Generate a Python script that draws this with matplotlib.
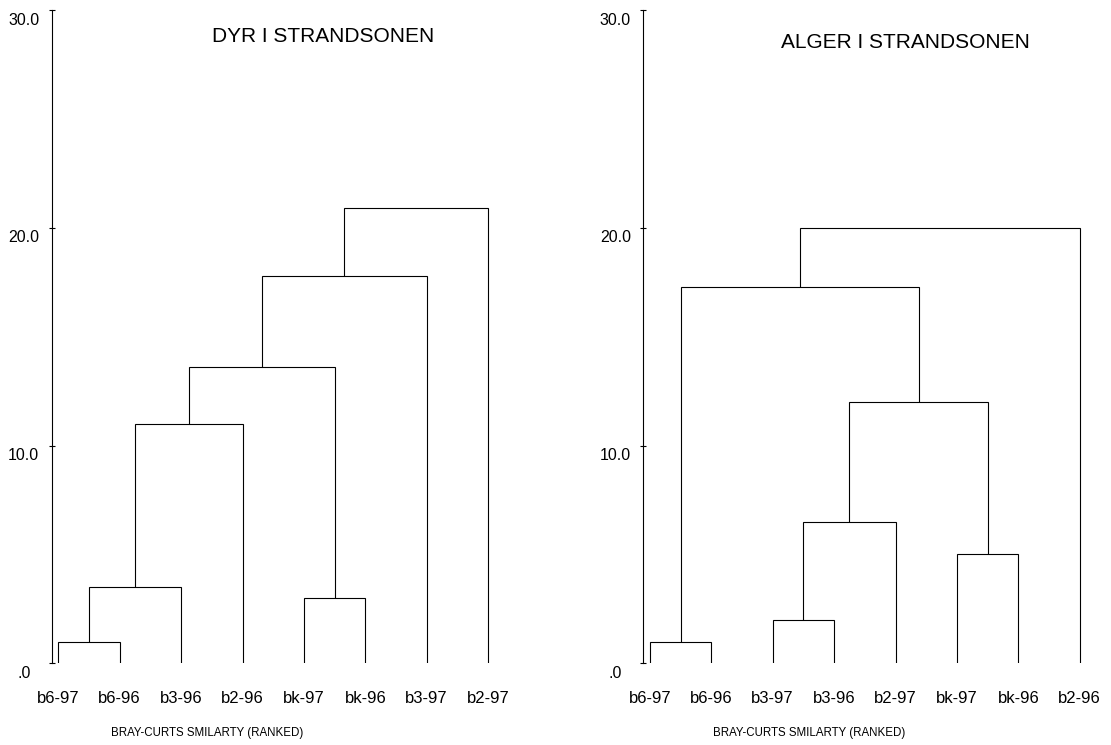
import matplotlib
matplotlib.use("Agg")
import matplotlib.pyplot as plt
from matplotlib.transforms import offset_copy, blended_transform_factory

FONT = ['Liberation Sans', 'DejaVu Sans']
plt.rcParams['font.family'] = FONT

# ---- data ----
titles = ["DYR I STRANDSONEN", "ALGER I STRANDSONEN"]
xlabel_text = "BRAY-CURTS SMILARTY (RANKED)"

left_leaves = ["b6-97", "b6-96", "b3-96", "b2-96", "bk-97", "bk-96", "b3-97", "b2-97"]
# merges: (child a, child b, height); new node index = n_leaves + merge index
left_merges = [(0, 1, 1.0), (8, 2, 3.5), (9, 3, 11.0), (4, 5, 3.0),
               (10, 11, 13.6), (12, 6, 17.8), (13, 7, 20.9)]

right_leaves = ["b6-97", "b6-96", "b3-97", "b3-96", "b2-97", "bk-97", "bk-96", "b2-96"]
right_merges = [(0, 1, 1.0), (2, 3, 2.0), (9, 4, 6.5), (5, 6, 5.0),
                (10, 11, 12.0), (8, 12, 17.3), (13, 7, 20.0)]

yticks = [0, 10, 20, 30]
ytick_labels = [".0", "10.0", "20.0", "30.0"]

W, H = 1111, 745
fig = plt.figure(figsize=(W / 100, H / 100), dpi=100)

def px_ax(x0, y_top, x1, y_bot):
    return fig.add_axes([x0 / W, 1 - y_bot / H, (x1 - x0) / W, (y_bot - y_top) / H])

panels = [
    dict(ax=px_ax(51.7, 10.3, 518.8, 663.3), leaves=left_leaves, merges=left_merges,
         title=titles[0], tpos=(323, 37), lpos=207, spine=51.7),
    dict(ax=px_ax(643.3, 10.3, 1110.4, 663.3), leaves=right_leaves, merges=right_merges,
         title=titles[1], tpos=(905, 42), lpos=809, spine=643.3),
]

for p in panels:
    ax = p['ax']
    leaves = p['leaves']
    n = len(leaves)
    xs = {i: i + 1 for i in range(n)}
    hs = {i: 0.0 for i in range(n)}
    for k, (a, b, h) in enumerate(p['merges']):
        node = n + k
        ax.plot([xs[a], xs[a], xs[b], xs[b]], [hs[a], h, h, hs[b]],
                color='black', lw=0.8, solid_capstyle='butt', solid_joinstyle='miter')
        xs[node] = (xs[a] + xs[b]) / 2
        hs[node] = h
    ax.set_xlim(0.892, 8.5)
    ax.set_ylim(0, 30)
    for s in ['top', 'right', 'bottom']:
        ax.spines[s].set_visible(False)
    ax.spines['left'].set_linewidth(0.8)
    ax.set_yticks(yticks)
    ax.set_yticklabels([])
    ax.tick_params(axis='y', direction='inout', length=5, width=0.8)
    # y tick labels, centred, slightly below each tick
    trans = blended_transform_factory(fig.transFigure, ax.transData)
    trans = offset_copy(trans, fig=fig, x=0, y=-10, units='dots')
    for v, lab in zip(yticks, ytick_labels):
        ax.text((p['spine'] - 28) / W, v, lab, transform=trans, fontsize=11.5,
                ha='center', va='center')
    ax.set_xticks(range(1, n + 1))
    ax.set_xticklabels(leaves, fontsize=12)
    ax.tick_params(axis='x', length=0, pad=25)
    for lab in ax.get_xticklabels():
        lab.set_verticalalignment('center')
    ax.patch.set_alpha(0)
    fig.text(p['tpos'][0] / W, 1 - p['tpos'][1] / H, p['title'], fontsize=15,
             ha='center', va='center')
    fig.text(p['lpos'] / W, 1 - 733 / H, xlabel_text, fontsize=8.3,
             ha='center', va='center')

fig.savefig("out.png", dpi=100)
